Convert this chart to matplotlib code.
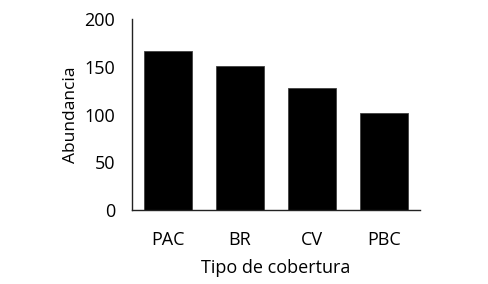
import matplotlib
matplotlib.use("Agg")
import matplotlib.pyplot as plt

categories = ["PAC", "BR", "CV", "PBC"]
abundancia = [166, 151, 128, 102]
yticks = [0, 50, 100, 150, 200]

plt.rcParams["font.family"] = ["Open Sans", "DejaVu Sans"]

fig = plt.figure(figsize=(4.88, 2.84), dpi=100)
ax = fig.add_axes([132 / 488, 1 - 210 / 284, 288 / 488, 191 / 284])

ax.bar(range(len(categories)), abundancia, width=0.667, color="black",
       edgecolor="#404040", linewidth=0.6)
ax.set_xlim(-0.5, len(categories) - 0.5)
ax.set_ylim(0, 200)
ax.set_yticks(yticks)
ax.set_xticks(range(len(categories)))
ax.set_xticklabels(categories)
ax.tick_params(length=0, labelsize=13, colors="black")
ax.tick_params(axis="x", pad=15)
ax.tick_params(axis="y", pad=12)

for side in ("top", "right"):
    ax.spines[side].set_visible(False)
for side in ("left", "bottom"):
    ax.spines[side].set_color("#222222")
    ax.spines[side].set_linewidth(1.0)

ax.set_ylabel("Abundancia", fontsize=12.5, labelpad=4)
ax.set_xlabel("Tipo de cobertura", fontsize=13, labelpad=7)

fig.savefig("out.png", dpi=100, facecolor="white")
